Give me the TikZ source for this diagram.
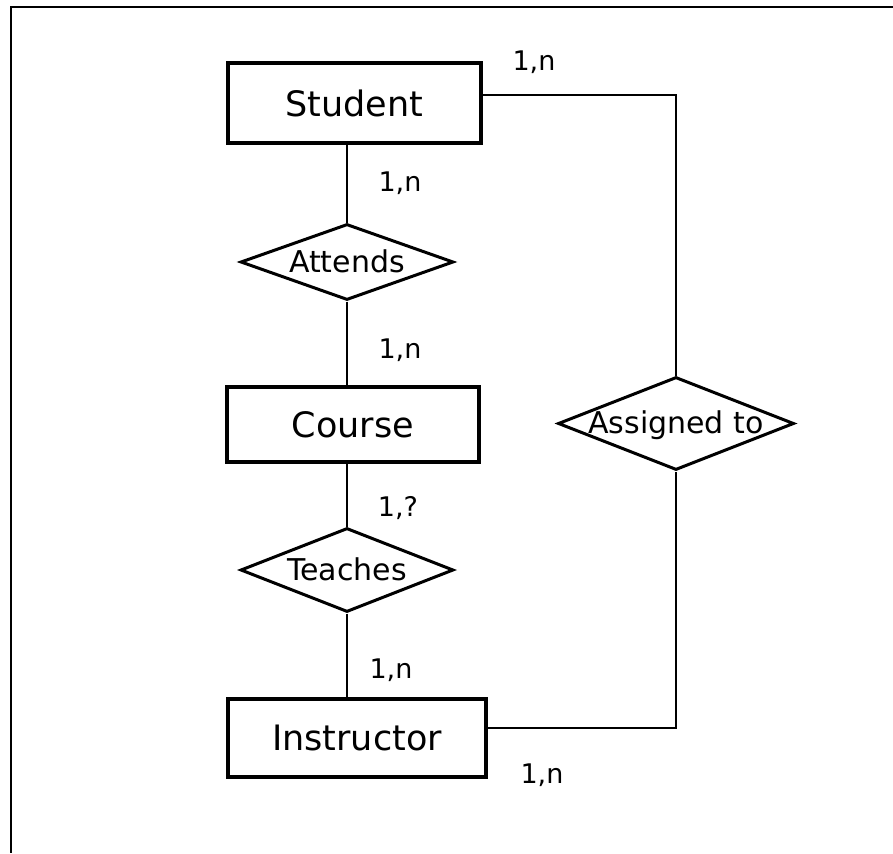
\documentclass[tikz,border=0pt]{standalone}
\usepackage{fontspec}
\setmainfont{DejaVu Sans}
\usetikzlibrary{shapes.geometric}
\tikzset{
  entity/.style={draw, line width=3.5pt, rectangle, inner sep=0pt, font=\fontsize{35}{40}\selectfont},
  relation/.style={draw, line width=3pt, diamond, inner sep=0pt, text height=20pt, text depth=0pt, font=\fontsize{30}{34}\selectfont},
  conn/.style={line width=1.6pt},
  card/.style={inner sep=0pt, font=\fontsize{27}{30}\selectfont},
  frame/.style={line width=2.5pt}
}
\begin{document}
\begin{tikzpicture}[x=1pt,y=-1pt]
\useasboundingbox (0,0) rectangle (893,853);
\draw[frame] (893,7) -- (11,7) -- (11,853);
% entities
\node[entity, minimum width=253pt, minimum height=80pt] (stu) at (354.5,103) {Student};
\node[entity, minimum width=252pt, minimum height=75pt] (cou) at (353,424.5) {Course};
\node[entity, minimum width=258pt, minimum height=78pt] (ins) at (357,738) {Instructor};
% relationships
\node[relation, aspect=2.8, minimum width=213pt, minimum height=76pt] (att) at (347,262) {Attends};
\node[relation, aspect=2.54, minimum width=213pt, minimum height=84pt] (tea) at (347,570) {Teaches};
\node[relation, aspect=2.54, minimum width=236pt, minimum height=93pt] (asg) at (676,423.5) {Assigned to};
% connectors
\draw[conn] (att.north |- stu.south) -- (att.north);
\draw[conn] (att.south) -- (att.south |- cou.north);
\draw[conn] (tea.north |- cou.south) -- (tea.north);
\draw[conn] (tea.south) -- (tea.south |- ins.north);
\draw[conn] ([yshift=8pt]stu.east) -| (asg.north);
\draw[conn] ([yshift=10pt]ins.east) -| (asg.south);
% cardinalities
\node[card] (c1) at (534,62) {1,n};
\node[card] (c2) at (400,183) {1,n};
\node[card] (c3) at (400,350) {1,n};
\node[card] (c4) at (398,508) {1,?};
\node[card] (c5) at (391,670) {1,n};
\node[card] (c6) at (542,775) {1,n};
\end{tikzpicture}
\end{document}
